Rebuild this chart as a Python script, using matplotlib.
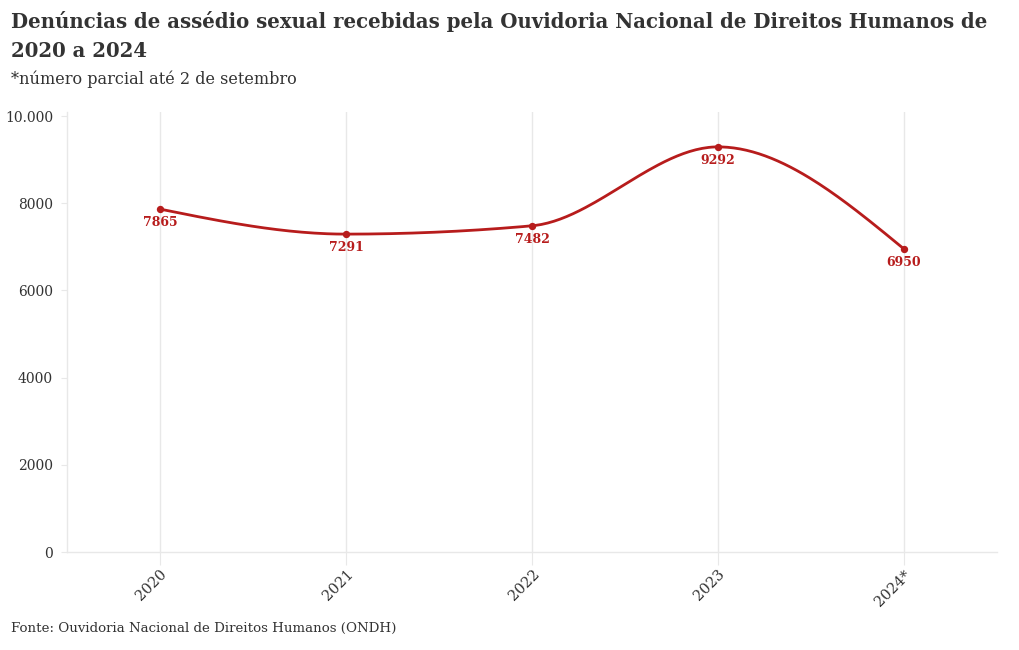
import numpy as np
import matplotlib
matplotlib.use("Agg")
import matplotlib.pyplot as plt

categories = ["2020", "2021", "2022", "2023", "2024*"]
values = [7865, 7291, 7482, 9292, 6950]
yticks = [0, 2000, 4000, 6000, 8000, 10000]
ytick_labels = ["0", "2000", "4000", "6000", "8000", "10.000"]

title = "Denúncias de assédio sexual recebidas pela Ouvidoria Nacional de Direitos Humanos de\n2020 a 2024"
subtitle = "*número parcial até 2 de setembro"
footer = "Fonte: Ouvidoria Nacional de Direitos Humanos (ONDH)"

RED = "#b71c1c"
GRID = "#e8e8e8"
TXT = "#333333"
FONT = "DejaVu Serif"

W, H = 1020, 650
fig = plt.figure(figsize=(W / 100, H / 100), dpi=100)
fig.patch.set_facecolor("white")


def fx(px):
    return px / W


def fy(py):
    return 1 - py / H


ax = fig.add_axes([fx(67), fy(552), fx(997 - 67), (552 - 112) / H])


# monotone-x cubic (d3 curveMonotoneX) for drawing the smooth line
def monotone_path(x, y, n=60):
    x = np.asarray(x, float)
    y = np.asarray(y, float)
    m = len(x)
    h = np.diff(x)
    s = np.diff(y) / h
    t = np.zeros(m)
    for i in range(1, m - 1):
        p = (s[i - 1] * h[i] + s[i] * h[i - 1]) / (h[i - 1] + h[i])
        t[i] = (np.sign(s[i - 1]) + np.sign(s[i])) * min(abs(s[i - 1]), abs(s[i]), 0.5 * abs(p))
    t[0] = (3 * s[0] - t[1]) / 2
    t[-1] = (3 * s[-1] - t[-2]) / 2
    xs, ys = [], []
    for i in range(m - 1):
        u = np.linspace(0, 1, n)
        h00 = 2 * u**3 - 3 * u**2 + 1
        h10 = u**3 - 2 * u**2 + u
        h01 = -2 * u**3 + 3 * u**2
        h11 = u**3 - u**2
        xs.append(x[i] + u * h[i])
        ys.append(h00 * y[i] + h10 * h[i] * t[i] + h01 * y[i + 1] + h11 * h[i] * t[i + 1])
    return np.concatenate(xs), np.concatenate(ys)


xpos = np.arange(len(categories))
cx, cy = monotone_path(xpos, values)
ax.plot(cx, cy, color=RED, lw=2.0, solid_capstyle="round", zorder=3)
ax.scatter(xpos, values, s=28, color=RED, zorder=4, linewidths=0)

for xi, v in zip(xpos, values):
    ax.annotate(str(v), (xi, v), xytext=(0, -5), textcoords="offset points",
                ha="center", va="top", color=RED, fontsize=9, fontweight="bold",
                family=FONT, zorder=5)

ax.set_xlim(-0.5, len(categories) - 0.5)
ax.set_ylim(0, 10092)
ax.set_xticks(xpos)
ax.set_xticklabels(categories, rotation=45, ha="right", rotation_mode="anchor",
                   family=FONT, fontsize=10.5, color=TXT)
ax.set_yticks(yticks)
ax.set_yticklabels(ytick_labels, family=FONT, fontsize=10, color=TXT)
ax.tick_params(axis="x", length=9, color=GRID, pad=2)
ax.tick_params(axis="y", length=4, color=GRID, pad=6)
ax.grid(axis="x", color=GRID, lw=1)
ax.set_axisbelow(True)
for side in ["top", "right"]:
    ax.spines[side].set_visible(False)
for side in ["left", "bottom"]:
    ax.spines[side].set_color(GRID)
    ax.spines[side].set_linewidth(1)

renderer = fig.canvas.get_renderer()


def fitted_text(x, y, s, target_w, weight="normal", color=TXT, va="top", linespacing=1.15):
    t = fig.text(fx(x), fy(y), s, family=FONT, fontweight=weight, color=color,
                 fontsize=12, va=va, ha="left", linespacing=linespacing)
    w = t.get_window_extent(renderer).width
    t.set_fontsize(12 * target_w / w)
    return t


fitted_text(11, 11, title, 974, weight="bold", color="#333333", linespacing=1.55)
fitted_text(11, 70, subtitle, 286)
fitted_text(11, 622, footer, 387)

fig.savefig("out.png", dpi=100, facecolor="white")
